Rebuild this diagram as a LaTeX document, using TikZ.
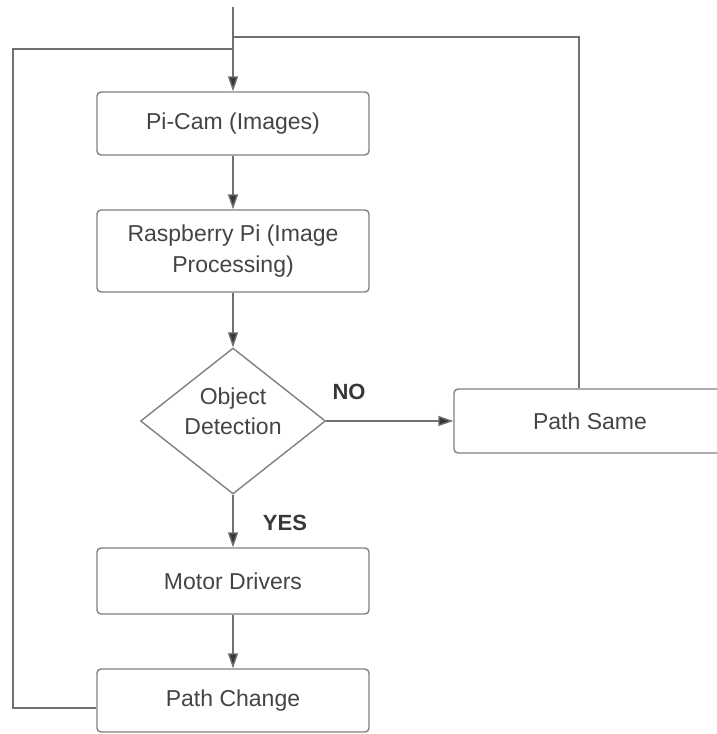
\documentclass[tikz,border=0pt]{standalone}
\usepackage{fontspec}
\setmainfont{Liberation Sans}
\usepackage{tikz}
\usetikzlibrary{arrows.meta,positioning,calc,shapes.geometric}
\definecolor{linea}{RGB}{112,112,112}
\definecolor{borde}{RGB}{128,128,128}
\definecolor{texto}{RGB}{68,68,68}
\definecolor{punta}{RGB}{55,55,55}
\tikzset{
  caja/.style={draw=borde, line width=1.4pt, rounded corners=4pt, align=center, minimum width=272pt, inner sep=0pt, text=texto, font=\fontsize{23}{31}\selectfont},
  rombo/.style={draw=borde, line width=1.4pt, diamond, aspect=1.27, minimum width=185pt, minimum height=146pt, inner sep=0pt, text depth=20pt, align=center, text=texto, font=\fontsize{23}{30}\selectfont},
  fl/.style={-{Triangle[length=15pt,width=10pt,fill=punta]}, line width=1.4pt, linea},
  ln/.style={line width=1.4pt, linea},
  et/.style={font=\fontsize{22}{26}\selectfont\bfseries, text=punta},
}
\begin{document}
\begin{tikzpicture}[x=1pt,y=-1pt]
  \useasboundingbox (0,0) rectangle (716,734);
  \coordinate (inicio) at (233,7);
  \coordinate (dere) at (579,37);
  \coordinate (izq) at (13,49);
  \node[caja, minimum height=63pt] (picam) at (233,123.5) {Pi-Cam (Images)};
  \node[caja, minimum height=82pt] (rpi) at (233,251) {Raspberry Pi (Image\\Processing)};
  \node[rombo] (detect) at (233,421) {Object\\Detection};
  \node[caja, minimum height=64pt] (same) at (590,421) {Path Same};
  \node[caja, minimum height=66pt] (motor) at (233,581) {Motor Drivers};
  \node[caja, minimum height=63pt] (change) at (233,700.5) {Path Change};
  \node[et] (no) at (349,392) {NO};
  \node[et] (yes) at (285,523) {YES};
  % flujo principal
  \draw[fl] (inicio) -- (picam);
  \draw[fl] (picam) -- (rpi);
  \draw[fl] (rpi) -- (detect);
  \draw[fl] (detect) -- (same);
  \draw[fl] (detect) -- (motor);
  \draw[fl] (motor) -- (change);
  % retornos
  \draw[ln] (same.north -| dere) -- (dere) -- (dere -| inicio);
  \draw[ln] ([yshift=-7.5pt]change.west) -| (izq) -- (izq -| inicio);
\end{tikzpicture}
\end{document}
